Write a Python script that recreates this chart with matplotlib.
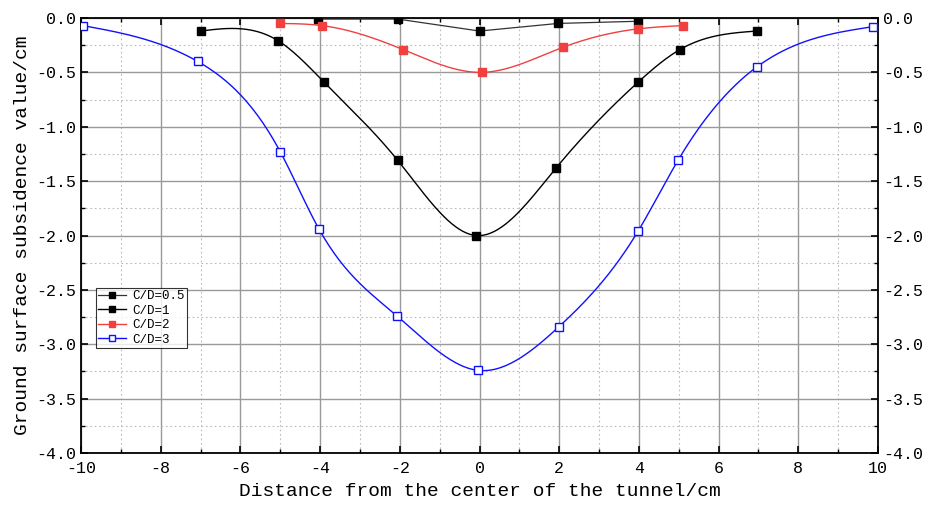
import numpy as np
import matplotlib
matplotlib.use("Agg")
import matplotlib.pyplot as plt
from matplotlib.ticker import MultipleLocator, FormatStrFormatter

plt.rcParams["font.family"] = ["Liberation Mono", "DejaVu Sans Mono"]
plt.rcParams["axes.unicode_minus"] = False

# data
x_05 = [-4.05, -2.05, 0.0, 1.97, 3.98]
y_05 = [-0.01, -0.01, -0.12, -0.05, -0.03]

x_1 = [-7.0, -5.05, -3.9, -2.05, -0.09, 1.92, 3.98, 5.03, 6.96]
y_1 = [-0.12, -0.21, -0.59, -1.31, -2.0, -1.38, -0.59, -0.29, -0.12]

x_2 = [-5.0, -3.95, -1.92, 0.06, 2.09, 3.98, 5.1]
y_2 = [-0.05, -0.07, -0.29, -0.50, -0.27, -0.10, -0.07]

x_3 = [-9.95, -7.07, -5.0, -4.03, -2.07, -0.04, 1.99, 3.98, 4.98, 6.96, 9.87]
y_3 = [-0.07, -0.40, -1.23, -1.94, -2.74, -3.24, -2.84, -1.96, -1.31, -0.45, -0.08]


def smooth(xs, ys, n=300):
    # natural cubic spline through the points (for drawing the smoothed line)
    x = np.asarray(xs, float)
    y = np.asarray(ys, float)
    k = len(x)
    h = np.diff(x)
    A = np.zeros((k, k))
    b = np.zeros(k)
    A[0, 0] = A[-1, -1] = 1
    for i in range(1, k - 1):
        A[i, i - 1] = h[i - 1]
        A[i, i] = 2 * (h[i - 1] + h[i])
        A[i, i + 1] = h[i]
        b[i] = 3 * ((y[i + 1] - y[i]) / h[i] - (y[i] - y[i - 1]) / h[i - 1])
    c = np.linalg.solve(A, b)
    xx = np.linspace(x[0], x[-1], n)
    idx = np.clip(np.searchsorted(x, xx) - 1, 0, k - 2)
    dx = xx - x[idx]
    bb = (y[1:] - y[:-1]) / h - h * (2 * c[:-1] + c[1:]) / 3
    dd = (c[1:] - c[:-1]) / (3 * h)
    yy = y[idx] + bb[idx] * dx + c[idx] * dx ** 2 + dd[idx] * dx ** 3
    return xx, yy


fig = plt.figure(figsize=(9.39, 5.07), dpi=100)
ax = fig.add_axes([0.0863, 0.1065, 0.8487, 0.858])

ms = 6
ax.plot(x_05, y_05, color="#333333", lw=0.9, zorder=3)
ax.plot(x_05, y_05, ls="none", marker="s", ms=ms, color="black", zorder=4)

sx, sy = smooth(x_1, y_1)
ax.plot(sx, sy, color="black", lw=1.0, zorder=3)
ax.plot(x_1, y_1, ls="none", marker="s", ms=ms, color="black", zorder=4)

sx, sy = smooth(x_2, y_2)
ax.plot(sx, sy, color="#f04040", lw=1.0, zorder=3)
ax.plot(x_2, y_2, ls="none", marker="s", ms=ms, color="#f04040", zorder=4)

sx, sy = smooth(x_3, y_3)
ax.plot(sx, sy, color="#1010ff", lw=1.0, zorder=3)
ax.plot(x_3, y_3, ls="none", marker="s", ms=ms, mfc="white", mec="#1010ff",
        mew=1.0, zorder=4)

# legend proxies
lms = 5
h05, = ax.plot([], [], color="#333333", lw=0.9, marker="s", ms=lms, mfc="black", mec="black")
h1, = ax.plot([], [], color="black", lw=1.0, marker="s", ms=lms)
h2, = ax.plot([], [], color="#f04040", lw=1.0, marker="s", ms=lms)
h3, = ax.plot([], [], color="#1010ff", lw=1.0, marker="s", ms=lms, mfc="white", mec="#1010ff")
leg = ax.legend([h05, h1, h2, h3], ["C/D=0.5", "C/D=1", "C/D=2", "C/D=3"],
                loc="upper left", bbox_to_anchor=(0.102, 0.431), bbox_transform=fig.transFigure,
                fontsize=9, frameon=True, fancybox=False, edgecolor="black",
                handlelength=2.3, handletextpad=0.5, borderpad=0.15, labelspacing=0.2,
                borderaxespad=0)
leg.get_frame().set_linewidth(0.8)

ax.set_xlim(-10, 10)
ax.set_ylim(-4, 0)
ax.xaxis.set_major_locator(MultipleLocator(2))
ax.xaxis.set_minor_locator(MultipleLocator(1))
ax.yaxis.set_major_locator(MultipleLocator(0.5))
ax.yaxis.set_minor_locator(MultipleLocator(0.25))
ax.yaxis.set_major_formatter(FormatStrFormatter("%.1f"))

ax.grid(which="major", color="#999999", lw=1.0, ls="-")
ax.grid(which="minor", color="#bbbbbb", lw=0.8, ls=(0, (1.5, 2.5)))
ax.set_axisbelow(True)

ax.tick_params(which="both", direction="in", top=True, right=True,
               labelright=True, labelsize=12, colors="black")
ax.tick_params(axis="x", which="major", pad=6)
ax.tick_params(which="major", length=5, width=1.2)
ax.tick_params(which="minor", length=3, width=1.0)
for s in ax.spines.values():
    s.set_linewidth(1.3)

ax.set_xlabel("Distance from the center of the tunnel/cm", fontsize=14, labelpad=5)
ax.set_ylabel("Ground surface subsidence value/cm", fontsize=14, labelpad=4)

fig.savefig("out.png", dpi=100)
